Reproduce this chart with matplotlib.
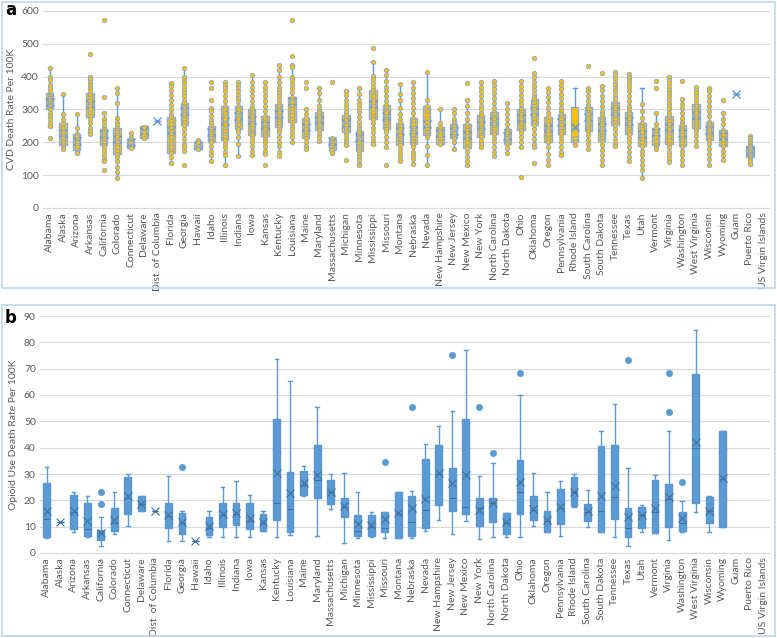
import numpy as np
import matplotlib.pyplot as plt
from matplotlib.patches import Rectangle

plt.rcParams['font.family'] = ['Lato', 'DejaVu Sans']

states = ['Alabama', 'Alaska', 'Arizona', 'Arkansas', 'California', 'Colorado', 'Connecticut',
          'Delaware', 'Dist. of Columbia', 'Florida', 'Georgia', 'Hawaii', 'Idaho', 'Illinois',
          'Indiana', 'Iowa', 'Kansas', 'Kentucky', 'Louisiana', 'Maine', 'Maryland',
          'Massachusetts', 'Michigan', 'Minnesota', 'Mississippi', 'Missouri', 'Montana',
          'Nebraska', 'Nevada', 'New Hampshire', 'New Jersey', 'New Mexico', 'New York',
          'North Carolina', 'North Dakota', 'Ohio', 'Oklahoma', 'Oregon', 'Pennsylvania',
          'Rhode Island', 'South Carolina', 'South Dakota', 'Tennessee', 'Texas', 'Utah',
          'Vermont', 'Virginia', 'Washington', 'West Virginia', 'Wisconsin', 'Wyoming',
          'Guam', 'Puerto Rico', 'US Virgin Islands']

# ---- panel a : CVD death rate per 100K (None = no data) ----
cvd_q1 = [300, 191, 176, 278, 193, 164, 184, 214, 264, 168, 252, 179, 201, 206, 242, 222, 219, 247,
          262, 213, 237, 176, 232, 174, 271, 242, 191, 196, 222, 194, 214, 183, 217, 224, 194, 239,
          254, 201, 224, 201, 235, 204, 254, 224, 189, 193, 196, 189, 245, 208, 189, 346, 155, None]
cvd_med = [318, 225, 205, 315, 218, 205, 198, 232, 264, 232, 292, 190, 227, 262, 276, 265, 252, 283,
           322, 240, 265, 192, 258, 206, 315, 277, 229, 232, 249, 222, 235, 215, 249, 262, 213, 270,
           292, 240, 255, 240, 270, 240, 292, 258, 225, 215, 240, 222, 282, 233, 214, 346, 172, None]
cvd_q3 = [349, 259, 225, 349, 242, 245, 211, 250, 264, 276, 321, 201, 251, 310, 310, 301, 280, 318,
          339, 274, 291, 209, 283, 235, 359, 313, 260, 274, 310, 247, 257, 257, 283, 293, 242, 301,
          331, 277, 287, 308, 308, 277, 323, 293, 260, 244, 280, 252, 318, 262, 239, 346, 188, None]
cvd_lo = [247, 181, 166, 224, 142, 90, 182, 214, 264, 137, 173, 179, 142, 132, 158, 160, 165, 157,
          201, 179, 203, 168, 191, 130, 196, 186, 142, 135, 132, 194, 179, 130, 186, 157, 166, 186,
          186, 130, 160, 191, 179, 132, 188, 142, 92, 179, 140, 130, 189, 130, 145, 346, 135, None]
cvd_hi = [427, 346, 285, 400, 288, 366, 229, 250, 264, 382, 427, 208, 306, 384, 384, 404, 384, 437,
          437, 300, 366, 212, 356, 366, 445, 420, 377, 384, 413, 303, 303, 328, 384, 386, 320, 386,
          412, 366, 387, 367, 367, 372, 415, 408, 367, 288, 398, 331, 370, 367, 288, 346, 219, None]
cvd_mean = [324, 228, 204, 318, 224, 210, 200, 233, 264, 238, 296, 192, 232, 266, 280, 268, 254, 287,
            327, 248, 268, 205, 260, 215, 318, 280, 235, 238, 255, 228, 236, 222, 254, 266, 220, 274,
            296, 244, 262, 248, 276, 246, 296, 264, 224, 230, 246, 228, 284, 238, 220, 346, 174, None]
cvd_points = [
    [427, 400, 390, 375, 365, 355, 345, 340, 335, 330, 325, 320, 315, 310, 305, 300, 290, 280, 270, 260, 250, 213],
    [346, 285, 270, 258, 245, 235, 228, 220, 212, 205, 198, 192, 185, 181],
    [285, 244, 225, 218, 211, 205, 200, 192, 185, 178, 170, 166],
    [468, 400, 393, 385, 375, 365, 355, 345, 335, 325, 318, 310, 300, 290, 280, 270, 258, 245, 235, 224],
    [574, 339, 288, 272, 262, 250, 242, 235, 228, 220, 214, 208, 200, 193, 185, 175, 162, 150, 142, 117],
    [366, 349, 320, 275, 262, 252, 245, 238, 230, 222, 215, 208, 200, 193, 185, 175, 164, 155, 142, 125, 110, 92],
    [229, 215, 210, 205, 200, 195, 190, 185, 182],
    [214, 232, 248],
    [],
    [382, 373, 360, 345, 330, 315, 300, 285, 276, 265, 255, 245, 235, 225, 215, 205, 195, 185, 175, 168, 155, 137],
    [427, 400, 390, 380, 370, 360, 350, 340, 330, 321, 312, 305, 298, 292, 285, 278, 270, 262, 252, 240, 225, 210, 195, 185, 173, 132],
    [208, 200, 190, 182, 179],
    [384, 364, 328, 306, 295, 280, 268, 258, 250, 242, 235, 228, 220, 212, 205, 200, 190, 175, 160, 142],
    [384, 375, 365, 355, 340, 325, 310, 300, 290, 280, 270, 262, 255, 245, 235, 225, 215, 206, 195, 185, 172, 160, 132],
    [384, 375, 365, 355, 345, 335, 325, 310, 300, 290, 282, 276, 270, 262, 255, 242, 230, 215, 194, 158],
    [404, 384, 370, 355, 340, 325, 310, 301, 292, 284, 276, 268, 260, 252, 244, 236, 228, 222, 212, 200, 190, 175, 160],
    [384, 370, 355, 340, 325, 310, 295, 280, 270, 262, 255, 248, 240, 232, 225, 219, 210, 200, 188, 175, 165, 132],
    [437, 420, 400, 385, 370, 360, 350, 340, 330, 318, 310, 302, 295, 288, 280, 272, 265, 258, 250, 240, 230, 215, 200, 190, 170, 157],
    [572, 464, 437, 428, 400, 390, 378, 365, 352, 339, 330, 322, 312, 302, 292, 282, 272, 262, 250, 240, 228, 215, 201],
    [384, 364, 300, 285, 274, 262, 250, 240, 230, 220, 213, 200, 189, 179],
    [366, 349, 330, 310, 298, 291, 284, 276, 268, 260, 252, 245, 237, 225, 215, 203],
    [384, 212, 205, 198, 192, 186, 180, 176, 168],
    [356, 345, 330, 318, 305, 292, 283, 275, 268, 260, 252, 245, 238, 232, 222, 210, 200, 191, 145],
    [366, 346, 328, 318, 305, 292, 278, 262, 250, 240, 235, 228, 220, 212, 205, 198, 190, 182, 174, 165, 155, 145, 135, 130],
    [488, 445, 402, 392, 380, 370, 359, 350, 340, 330, 320, 310, 300, 290, 280, 271, 260, 245, 230, 215, 205, 196],
    [420, 404, 388, 370, 355, 340, 325, 313, 305, 295, 288, 280, 272, 265, 258, 250, 242, 230, 215, 200, 186, 132],
    [377, 346, 330, 305, 285, 270, 260, 250, 240, 230, 222, 213, 205, 197, 191, 180, 168, 155, 142],
    [384, 366, 350, 335, 320, 305, 290, 274, 265, 255, 245, 238, 230, 222, 214, 205, 196, 185, 172, 160, 148, 135],
    [413, 328, 310, 295, 275, 262, 249, 240, 230, 222, 215, 190, 160, 132],
    [303, 260, 247, 238, 230, 222, 210, 200, 194],
    [303, 290, 272, 262, 257, 250, 242, 235, 228, 220, 214, 200, 179],
    [381, 328, 310, 290, 272, 257, 248, 238, 228, 218, 210, 200, 190, 183, 170, 155, 142, 130],
    [384, 370, 355, 340, 325, 310, 300, 290, 283, 275, 268, 260, 253, 245, 238, 230, 223, 217, 205, 195, 186],
    [386, 375, 362, 350, 335, 320, 305, 293, 285, 278, 270, 262, 255, 248, 240, 232, 224, 214, 200, 185, 170, 157],
    [320, 300, 285, 270, 255, 242, 235, 228, 220, 213, 205, 197, 194, 182, 166],
    [386, 372, 358, 345, 330, 318, 305, 301, 293, 285, 278, 270, 262, 255, 247, 239, 228, 215, 200, 186, 94],
    [458, 412, 400, 385, 372, 360, 348, 338, 331, 322, 312, 302, 292, 282, 272, 263, 254, 240, 225, 210, 195, 186, 137],
    [366, 352, 338, 322, 305, 290, 277, 265, 255, 245, 235, 225, 214, 201, 185, 165, 145, 130],
    [387, 375, 362, 348, 335, 320, 305, 295, 287, 278, 270, 262, 255, 245, 235, 224, 212, 200, 185, 172, 160],
    [205, 191, 214],
    [432, 367, 355, 340, 325, 315, 308, 300, 292, 285, 277, 270, 262, 255, 247, 240, 235, 222, 208, 195, 179],
    [412, 372, 358, 342, 325, 310, 295, 285, 277, 268, 260, 252, 244, 236, 228, 220, 212, 204, 192, 178, 160, 145, 132],
    [415, 405, 395, 385, 375, 365, 355, 345, 335, 323, 315, 307, 300, 292, 285, 278, 270, 262, 254, 240, 225, 210, 198, 188],
    [408, 400, 390, 380, 368, 355, 340, 325, 310, 300, 293, 285, 278, 270, 262, 255, 248, 240, 232, 224, 212, 200, 185, 170, 155, 142],
    [318, 295, 275, 260, 250, 240, 230, 220, 210, 200, 189, 175, 160, 145, 130, 115, 92],
    [386, 366, 288, 255, 244, 235, 225, 215, 205, 193, 185, 179],
    [398, 390, 380, 370, 360, 350, 340, 330, 320, 310, 300, 290, 280, 272, 264, 256, 248, 240, 232, 224, 216, 208, 196, 185, 172, 160, 150, 140],
    [386, 331, 318, 305, 290, 275, 262, 252, 245, 238, 230, 222, 214, 206, 198, 189, 175, 160, 145, 130],
    [370, 360, 350, 340, 330, 318, 310, 302, 295, 288, 280, 272, 265, 258, 250, 245, 235, 220, 205, 189],
    [367, 355, 340, 325, 310, 295, 280, 262, 255, 248, 240, 233, 226, 218, 208, 195, 180, 165, 150, 130],
    [328, 288, 270, 255, 239, 230, 222, 214, 206, 198, 189, 175, 160, 145],
    [],
    [219, 212, 205, 198, 192, 188, 182, 176, 170, 165, 160, 155, 148, 142, 135],
    [],
]

# ---- panel b : opioid use death rate per 100K ----
op_q1 = [6.0, 11.6, 9.3, 6.4, 4.8, 8.3, 15.0, 15.9, 16.1, 9.5, 7.2, 4.4, 6.7, 9.8, 10.8, 9.1, 8.5, 12.7,
         8.0, 22.2, 20.7, 18.7, 13.8, 6.6, 6.3, 7.8, 5.8, 6.5, 9.6, 18.2, 15.8, 14.8, 10.4, 11.8, 7.4,
         14.8, 12.4, 8.0, 11.0, 17.9, 12.2, 8.1, 12.9, 6.0, 9.4, 7.7, 9.9, 8.2, 18.8, 11.3, 10.0,
         None, None, None]
op_med = [13.0, 11.6, 15.5, 9.1, 7.5, 11.5, 21.0, 18.5, 16.1, 14.0, 11.5, 4.4, 9.5, 14.5, 15.0, 12.0,
          11.5, 19.0, 16.7, 26.0, 27.6, 23.0, 17.5, 8.5, 10.0, 9.6, 15.0, 11.6, 16.3, 30.0, 20.9, 17.4,
          16.9, 19.0, 11.5, 23.2, 16.5, 12.0, 17.0, 23.0, 15.5, 16.0, 21.4, 9.6, 14.4, 15.7, 20.4,
          11.5, 39.8, 16.0, 28.0, None, None, None]
op_q3 = [26.6, 11.6, 22.1, 18.8, 8.9, 17.2, 28.8, 21.6, 16.1, 18.8, 15.1, 4.4, 13.7, 19.0, 18.8, 18.8,
         15.0, 51.0, 30.8, 31.3, 40.9, 27.9, 20.8, 14.3, 14.6, 15.7, 23.0, 21.8, 35.6, 40.9, 32.3, 51.0,
         20.9, 20.9, 15.1, 35.5, 21.8, 15.8, 24.3, 28.8, 18.6, 40.7, 41.1, 17.1, 17.6, 27.8, 26.1, 15.6,
         67.9, 21.3, 46.5, None, None, None]
op_lo = [5.8, 11.6, 8.0, 6.0, 2.8, 7.2, 10.2, 15.9, 16.1, 4.7, 4.7, 4.4, 6.1, 6.1, 6.1, 6.1, 8.3, 6.1,
         7.0, 21.8, 6.6, 16.6, 3.7, 5.8, 5.9, 5.8, 5.8, 5.8, 8.4, 12.5, 7.4, 12.0, 5.3, 6.0, 6.0, 6.1,
         10.1, 7.8, 6.6, 17.4, 9.8, 8.1, 6.0, 2.8, 7.9, 7.7, 4.9, 8.0, 15.6, 8.1, 10.0, None, None, None]
op_hi = [32.5, 11.6, 23.2, 21.8, 13.5, 23.2, 30.0, 21.6, 16.1, 29.2, 15.8, 4.4, 15.8, 25.1, 27.5, 22.2,
         15.8, 73.6, 65.4, 33.0, 55.6, 30.0, 30.5, 23.0, 15.7, 15.7, 23.0, 23.7, 41.3, 48.3, 54.0, 77.2,
         29.2, 34.3, 15.1, 60.0, 30.4, 23.2, 27.5, 30.0, 24.0, 46.5, 56.5, 32.4, 18.1, 29.7, 46.5, 19.9,
         84.7, 21.8, 46.5, None, None, None]
op_mean = [15.8, 11.6, 15.8, 12.0, 7.6, 12.7, 21.5, 18.6, 16.1, 14.6, 11.7, 4.4, 10.2, 14.8, 15.2, 13.3,
           11.6, 30.2, 22.8, 26.4, 29.6, 23.2, 18.0, 10.9, 10.6, 12.9, 15.1, 17.2, 20.4, 30.3, 26.6, 29.8,
           16.5, 19.0, 11.6, 27.0, 16.8, 12.7, 17.4, 23.1, 16.0, 21.7, 25.6, 13.8, 14.4, 17.2, 21.4, 13.2,
           42.0, 16.0, 28.4, None, None, None]
op_fliers = {4: [23.2, 18.6], 10: [32.6], 25: [34.4], 27: [55.6], 30: [75.2], 32: [55.6],
             33: [38.1], 35: [68.3], 43: [73.4], 46: [53.4, 68.3], 47: [27.1]}

blue = '#5B9BD5'
gold = '#FFC000'
grey_txt = '#595959'

fig = plt.figure(figsize=(7.77, 6.38), dpi=100)

# panel frames
for y0, h in [(1 - 288 / 638, 286 / 638), (1 - 636 / 638, 331 / 638)]:
    fig.patches.append(Rectangle((2 / 777, y0), 773 / 777, h, transform=fig.transFigure,
                                 fill=False, edgecolor='#BDD7EE', linewidth=1.2))

ax1 = fig.add_axes([43 / 777, 1 - 208 / 638, 727 / 777, 197 / 638])
ax2 = fig.add_axes([40 / 777, 1 - 553 / 638, 730 / 777, 237 / 638])


def make_stats(q1, med, q3, lo, hi, mean, fliers):
    stats, pos = [], []
    for i in range(len(states)):
        if q1[i] is None:
            continue
        stats.append(dict(q1=q1[i], med=med[i], q3=q3[i], whislo=lo[i], whishi=hi[i],
                          mean=mean[i], fliers=fliers.get(i, [])))
        pos.append(i)
    return stats, pos


def style_axis(ax, ymax, step, ylabel):
    ax.set_xlim(-0.5, len(states) - 0.5)
    ax.set_ylim(0, ymax)
    ax.set_yticks(np.arange(0, ymax + 1, step))
    ax.yaxis.grid(True, color='#D9D9D9', linewidth=0.8)
    ax.set_axisbelow(True)
    for s in ['left', 'right', 'top']:
        ax.spines[s].set_visible(False)
    ax.spines['bottom'].set_color('#D9D9D9')
    ax.tick_params(length=0, labelsize=7.5, labelcolor=grey_txt, pad=3)
    ax.set_xticks(range(len(states)))
    ax.set_xticklabels(states, rotation=90)
    ax.set_ylabel(ylabel, fontsize=7.5, color=grey_txt)


# panel a
stats, pos = make_stats(cvd_q1, cvd_med, cvd_q3, cvd_lo, cvd_hi, cvd_mean, {})
ax1.bxp(stats, positions=pos, widths=0.55, showmeans=True, patch_artist=True,
        boxprops=dict(facecolor=gold, edgecolor='#8FAADC', linewidth=1.0),
        medianprops=dict(color='#8FAADC', linewidth=1.0),
        whiskerprops=dict(color=blue, linewidth=1.0),
        capprops=dict(color=blue, linewidth=1.0),
        meanprops=dict(marker='x', markeredgecolor=blue, markersize=6, markeredgewidth=1.0))
for i, pts in enumerate(cvd_points):
    ax1.scatter(np.full(len(pts), i), pts, s=10, facecolor=gold, edgecolor='#86A8D4',
                linewidth=0.6, zorder=4)
style_axis(ax1, 600, 100, 'CVD Death Rate Per 100K')

# panel b
stats, pos = make_stats(op_q1, op_med, op_q3, op_lo, op_hi, op_mean, op_fliers)
ax2.bxp(stats, positions=pos, widths=0.5, showmeans=True, patch_artist=True,
        boxprops=dict(facecolor=blue, edgecolor='#5A95CF', linewidth=1.0),
        medianprops=dict(color='#41719C', linewidth=0.8),
        whiskerprops=dict(color=blue, linewidth=1.0),
        capprops=dict(color=blue, linewidth=1.0),
        flierprops=dict(marker='o', markerfacecolor=blue, markeredgecolor=blue, markersize=4),
        meanprops=dict(marker='x', markeredgecolor='#41719C', markersize=6, markeredgewidth=0.8))
style_axis(ax2, 90, 10, 'Opioid Use Death Rate Per 100K')

fig.text(5 / 777, 1 - 10 / 638, 'a', fontsize=12, fontweight='bold', va='center', family='DejaVu Sans')
fig.text(5 / 777, 1 - 318 / 638, 'b', fontsize=12, fontweight='bold', va='center', family='DejaVu Sans')

fig.savefig('out.png', dpi=100)
